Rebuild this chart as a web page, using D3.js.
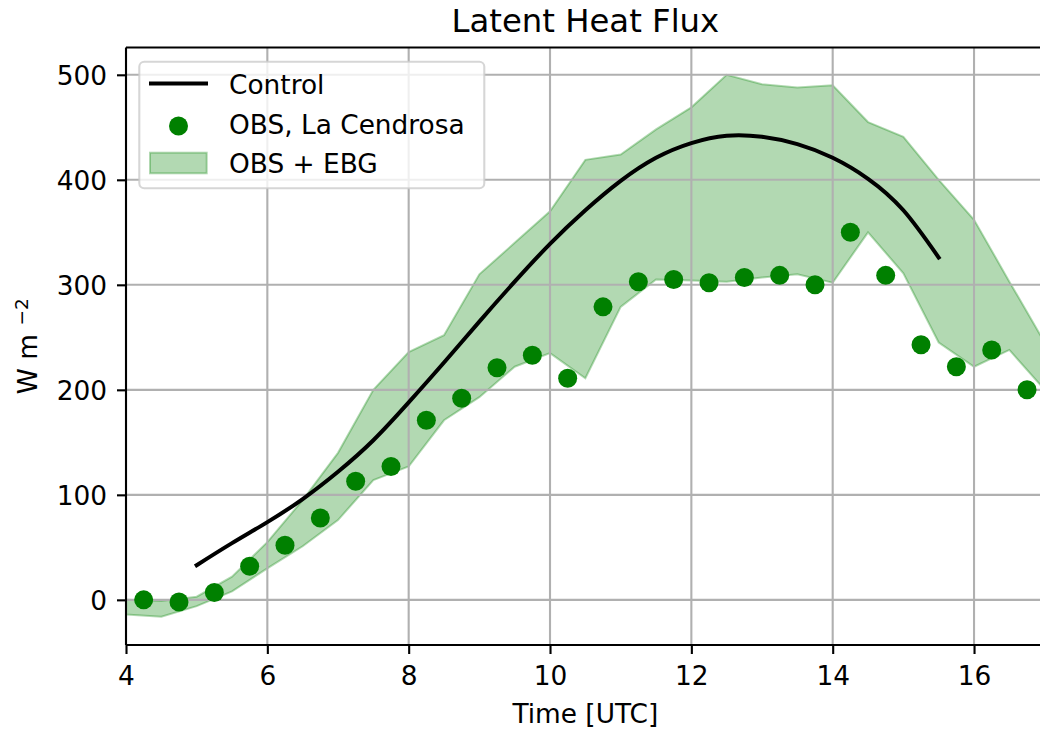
<!DOCTYPE html>
<html>
<head>
<meta charset="utf-8">
<script src="https://cdn.jsdelivr.net/npm/d3@7"></script>
<style>
  html, body { margin: 0; padding: 0; background: #fff; }
  svg { display: block; }
  text { font-family: "DejaVu Sans", sans-serif; fill: #000; }
</style>
</head>
<body>
<svg id="chart" width="1040" height="729"></svg>
<script>
// ---------- data ----------
const obsTimes = [4.25, 4.75, 5.25, 5.75, 6.25, 6.75, 7.25, 7.75, 8.25, 8.75, 9.25, 9.75, 10.25,
                  10.75, 11.25, 11.75, 12.25, 12.75, 13.25, 13.75, 14.25, 14.75, 15.25, 15.75, 16.25, 16.75];
const obsValues = [0, -2, 7, 32, 52, 78, 113, 127, 171, 192, 221, 233, 211,
                   279, 303, 305, 302, 307, 309, 300, 350, 309, 243, 222, 238, 200];

const bandTimes = [4, 4.5, 5, 5.5, 6, 6.5, 7, 7.5, 8, 8.5, 9, 9.5, 10, 10.5, 11, 11.5, 12,
                   12.5, 13, 13.5, 14, 14.5, 15, 15.5, 16, 16.5, 17];
const bandLower = [-14, -16, -6, 8, 30, 51, 76, 114, 127, 171, 193, 222, 235, 211, 279, 305, 304,
                   303, 307, 310, 302, 350, 311, 245, 222, 238, 200];
const bandUpper = [0, -1, 3, 22, 55, 95, 140, 200, 236, 252, 310, 340, 370, 419, 424, 448, 469,
                   500, 491, 488, 490, 455, 441, 400, 362, 303, 245];

const controlTimes = [5, 5.5, 6, 6.5, 7, 7.5, 8, 8.5, 9, 9.5, 10, 10.5, 11, 11.5, 12, 12.5, 13,
                      13.5, 14, 14.5, 15, 15.5];
const controlValues = [33, 54, 74, 96, 122, 152, 188, 226, 265, 303, 339, 371, 399, 421, 435, 442,
                       441, 434, 421, 401, 371, 326];

const xTicks = [4, 6, 8, 10, 12, 14, 16];
const yTicks = [0, 100, 200, 300, 400, 500];

const titleText = "Latent Heat Flux";
const xLabel = "Time [UTC]";
const legendLabels = ["Control", "OBS, La Cendrosa", "OBS + EBG"];

// ---------- layout ----------
const svg = d3.select("#chart");
const L = 126, R = 1044.7, T = 47.5, B = 645;
const x = d3.scaleLinear().domain([4, 17]).range([L, R]);
const y = d3.scaleLinear().domain([-43, 526]).range([B, T]);

svg.append("rect").attr("width", 1040).attr("height", 729).attr("fill", "#fff");

svg.append("defs").append("clipPath").attr("id", "clip")
  .append("rect").attr("x", L).attr("y", T).attr("width", R - L).attr("height", B - T);

const plot = svg.append("g").attr("clip-path", "url(#clip)");

// band
const band = bandTimes.map((t, i) => ({t, lo: bandLower[i], hi: bandUpper[i]}));
plot.append("path")
  .datum(band)
  .attr("d", d3.area().x(d => x(d.t)).y0(d => y(d.lo)).y1(d => y(d.hi)))
  .attr("fill", "green").attr("fill-opacity", 0.3)
  .attr("stroke", "green").attr("stroke-opacity", 0.3).attr("stroke-width", 2);

// grid
const grid = plot.append("g");
grid.selectAll("line.gx").data(xTicks).join("line")
  .attr("x1", d => x(d)).attr("x2", d => x(d)).attr("y1", T).attr("y2", B)
  .attr("stroke", "#b0b0b0").attr("stroke-width", 2.1);
grid.selectAll("line.gy").data(yTicks).join("line")
  .attr("y1", d => y(d)).attr("y2", d => y(d)).attr("x1", L).attr("x2", R)
  .attr("stroke", "#b0b0b0").attr("stroke-width", 2.1);

// obs dots
plot.selectAll("circle.obs").data(obsTimes.map((t, i) => ({t, v: obsValues[i]}))).join("circle")
  .attr("cx", d => x(d.t)).attr("cy", d => y(d.v)).attr("r", 9.5).attr("fill", "green");

// control line
const ctrl = controlTimes.map((t, i) => ({t, v: controlValues[i]}));
plot.append("path").datum(ctrl)
  .attr("d", d3.line().x(d => x(d.t)).y(d => y(d.v)).curve(d3.curveNatural))
  .attr("fill", "none").attr("stroke", "#000").attr("stroke-width", 4)
  .attr("stroke-linecap", "square");

// axes
const fs = 26.4;
const xAxis = svg.append("g").attr("transform", `translate(0,${B})`)
  .call(d3.axisBottom(x).tickValues(xTicks).tickSize(9).tickPadding(9).tickFormat(d3.format("d")));
const yAxis = svg.append("g").attr("transform", `translate(${L},0)`)
  .call(d3.axisLeft(y).tickValues(yTicks).tickSize(9).tickPadding(9).tickFormat(d3.format("d")));
[xAxis, yAxis].forEach(g => {
  g.select(".domain").remove();
  g.selectAll(".tick line").attr("stroke", "#000").attr("stroke-width", 2.1);
  g.selectAll(".tick text").attr("font-size", fs).attr("font-family", "DejaVu Sans").attr("fill", "#000");
});
xAxis.selectAll(".tick text").attr("dy", null).attr("y", 39.5);
yAxis.selectAll(".tick text").attr("dy", null).attr("y", 9.6).attr("x", -19);

// spines
svg.append("line").attr("x1", L).attr("x2", L).attr("y1", T).attr("y2", B).attr("stroke", "#000").attr("stroke-width", 2.1);
svg.append("line").attr("x1", L).attr("x2", R).attr("y1", B).attr("y2", B).attr("stroke", "#000").attr("stroke-width", 2.1);
svg.append("line").attr("x1", L).attr("x2", R).attr("y1", T).attr("y2", T).attr("stroke", "#000").attr("stroke-width", 2.1);

// title and labels
svg.append("text").attr("x", (L + R) / 2).attr("y", 32).attr("text-anchor", "middle")
  .attr("font-size", 32.3).text(titleText);
svg.append("text").attr("x", (L + R) / 2).attr("y", 722.5).attr("text-anchor", "middle")
  .attr("font-size", fs).text(xLabel);
const yl = svg.append("text").attr("transform", `translate(37,${(T + B) / 2}) rotate(-90)`)
  .attr("text-anchor", "middle").attr("font-size", fs);
yl.append("tspan").text("W m ");
yl.append("tspan").attr("font-size", 18.5).attr("dy", -9).text("\u22122");

// legend
const lg = svg.append("g");
lg.append("rect").attr("x", 139.3).attr("y", 61.7).attr("width", 345).attr("height", 126.6)
  .attr("rx", 5).attr("fill", "#fff").attr("fill-opacity", 0.8)
  .attr("stroke", "#cccccc").attr("stroke-opacity", 0.8).attr("stroke-width", 2.1);
lg.append("line").attr("x1", 149).attr("x2", 208).attr("y1", 83.5).attr("y2", 83.5)
  .attr("stroke", "#000").attr("stroke-width", 4);
lg.append("circle").attr("cx", 178.5).attr("cy", 126).attr("r", 9.5).attr("fill", "green");
lg.append("rect").attr("x", 150).attr("y", 152.7).attr("width", 56.7).attr("height", 20.6)
  .attr("fill", "green").attr("fill-opacity", 0.3)
  .attr("stroke", "green").attr("stroke-opacity", 0.3).attr("stroke-width", 2);
const baselines = [94, 133.5, 173];
legendLabels.forEach((t, i) => {
  lg.append("text").attr("x", 229).attr("y", baselines[i]).attr("font-size", fs).text(t);
});
</script>
</body>
</html>
